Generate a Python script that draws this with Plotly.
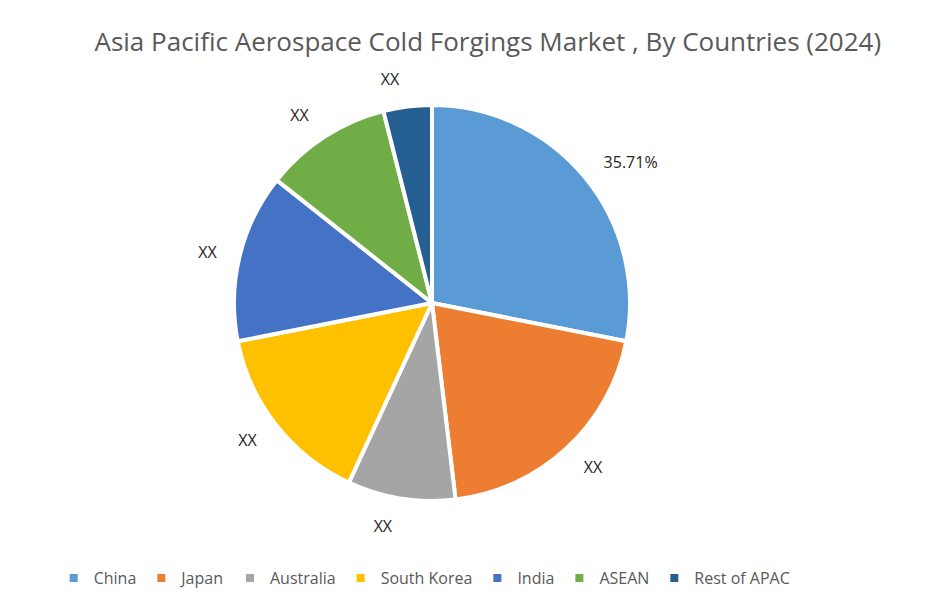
import plotly.graph_objects as go

countries = ["China", "Japan", "Australia", "South Korea", "India", "ASEAN", "Rest of APAC"]
shares = [28.1, 20.0, 8.8, 15.0, 13.75, 10.4, 3.95]
label_text = ["35.71%", "XX", "XX", "XX", "XX", "XX", "XX"]
colors = ["#5B9BD5", "#ED7D31", "#A5A5A5", "#FFC000", "#4472C4", "#70AD47", "#255E91"]

W, H = 928, 600
cx, cy, r = 424, 295, 198
r_lab = r + 17

def dom(rad):
    return dict(x=[(cx - rad) / W, (cx + rad) / W], y=[(H - cy - rad) / H, (H - cy + rad) / H])

fig = go.Figure()
fig.add_trace(go.Pie(
    labels=countries, values=shares, sort=False, direction="clockwise", rotation=0,
    textinfo="none", hoverinfo="label+percent",
    marker=dict(colors=colors, line=dict(color="white", width=4)),
    domain=dom(r), automargin=False,
))
# transparent companion ring used only to carry the outside value labels
fig.add_trace(go.Pie(
    labels=countries, values=shares, sort=False, direction="clockwise", rotation=0,
    text=label_text, textinfo="text", textposition="outside", showlegend=False,
    hoverinfo="skip",
    marker=dict(colors=["rgba(0,0,0,0)"] * len(countries), line=dict(width=0)),
    textfont=dict(family="Open Sans", size=16, color="#262626"),
    domain=dom(r_lab), automargin=False,
))

fig.update_layout(
    width=W, height=H,
    margin=dict(l=0, r=0, t=0, b=0),
    paper_bgcolor="white",
    title=dict(text="Asia Pacific Aerospace Cold Forgings Market , By Countries (2024)",
               x=0.517, xanchor="center", y=0.943, yanchor="middle",
               font=dict(family="Open Sans", size=26, color="#595959")),
    legend=dict(orientation="h", x=0.449, xanchor="center", y=0.05, yanchor="middle",
                font=dict(family="Open Sans", size=16, color="#595959"),
                itemwidth=30, traceorder="normal"),
)

fig.write_html("out.html")
